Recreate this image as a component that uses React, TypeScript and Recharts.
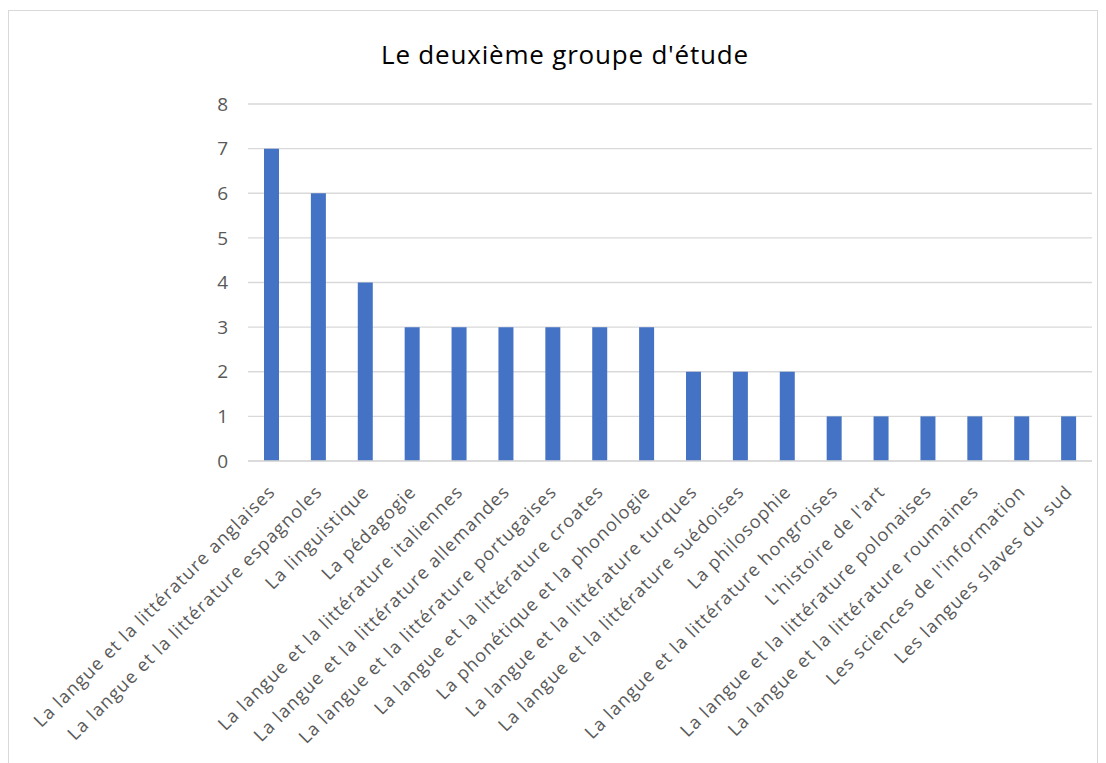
import { BarChart, Bar, XAxis, YAxis, CartesianGrid } from "recharts";

const categories = [
  "La langue et la littérature anglaises",
  "La langue et la littérature espagnoles",
  "La linguistique",
  "La pédagogie",
  "La langue et la littérature italiennes",
  "La langue et la littérature allemandes",
  "La langue et la littérature portugaises",
  "La langue et la littérature croates",
  "La phonétique et la phonologie",
  "La langue et la littérature turques",
  "La langue et la littérature suédoises",
  "La philosophie",
  "La langue et la littérature hongroises",
  "L'histoire de l'art",
  "La langue et la littérature polonaises",
  "La langue et la littérature roumaines",
  "Les sciences de l'information",
  "Les langues slaves du sud",
];
const counts = [7, 6, 4, 3, 3, 3, 3, 3, 3, 2, 2, 2, 1, 1, 1, 1, 1, 1];
const yTicks = [0, 1, 2, 3, 4, 5, 6, 7, 8];

const data = categories.map((name, i) => ({ name, value: counts[i] }));

const FONT = "'Open Sans', 'Noto Sans', sans-serif";

function AngledTick(props: any) {
  const { x, y, payload } = props;
  const ax = x + 5;
  const ay = y + 24;
  return (
    <text
      x={ax}
      y={ay}
      textAnchor="end"
      fill="#595959"
      fontSize={18}
      letterSpacing={1.1}
      fontFamily={FONT}
      transform={`rotate(-45, ${ax}, ${ay})`}
    >
      {payload.value}
    </text>
  );
}

export default function App() {
  return (
    <div
      style={{
        position: "relative",
        width: 1088,
        height: 760,
        marginTop: 2,
        border: "1px solid #d9d9d9",
        background: "#fff",
        overflow: "hidden",
      }}
    >
      <div
        style={{
          position: "absolute",
          top: 25,
          left: 0,
          width: 1112,
          textAlign: "center",
          fontFamily: FONT,
          fontSize: 26,
          letterSpacing: 0.8,
          color: "#000",
        }}
      >
        Le deuxième groupe d'étude
      </div>
      <BarChart
        width={1088}
        height={760}
        data={data}
        margin={{ top: 93, right: 5, bottom: 0, left: 0 }}
        barSize={15}
      >
        <CartesianGrid vertical={false} stroke="#d9d9d9" strokeWidth={1.3} />
        <YAxis
          domain={[0, 8]}
          ticks={yTicks}
          width={239}
          axisLine={false}
          tickLine={false}
          tickSize={0}
          tickMargin={20}
          tick={{ fill: "#595959", fontSize: 19, fontFamily: FONT }}
        />
        <XAxis
          dataKey="name"
          interval={0}
          height={310}
          axisLine={{ stroke: "#d9d9d9", strokeWidth: 1.3 }}
          tickLine={false}
          tick={<AngledTick />}
        />
        <Bar dataKey="value" fill="#4472c4" isAnimationActive={false} />
      </BarChart>
    </div>
  );
}
